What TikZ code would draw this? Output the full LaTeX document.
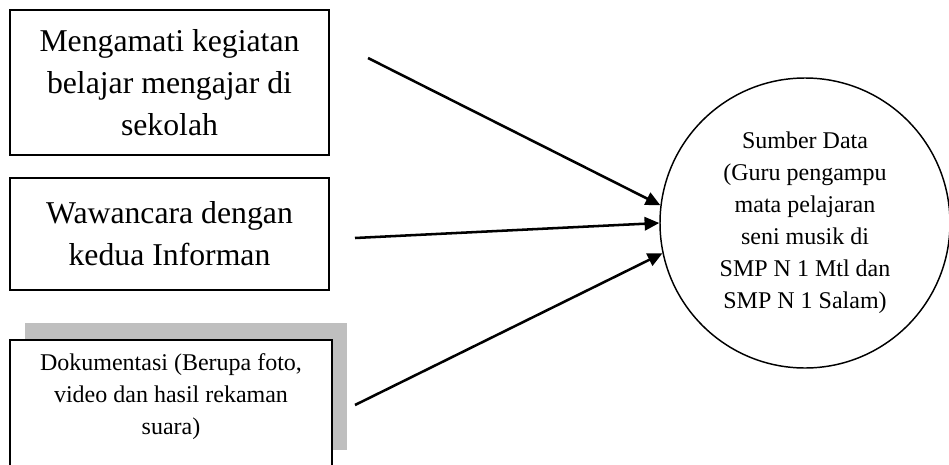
\documentclass[tikz,border=0pt]{standalone}
\usepackage{fontspec}
\setmainfont{Liberation Serif}
\usetikzlibrary{shapes,arrows.meta,positioning,shadows}

\tikzset{
	kotak/.style={draw, line width=1.1pt, fill=white, align=center, minimum width=239pt},
	besar/.style={font=\fontsize{23.8}{31.5}\selectfont},
	kecil/.style={font=\fontsize{18}{24}\selectfont},
	panah/.style={-{Triangle[length=11pt,width=10pt]}, line width=1.9pt}
}

\begin{document}
\begin{tikzpicture}[x=0.75pt,y=-0.75pt]
	\useasboundingbox (0,0) rectangle (949,464);
	\clip (0,0) rectangle (949,464);

	\node[kotak, besar, minimum height=108.75pt] (amati) at (169.5,82.5) {Mengamati kegiatan\\ belajar mengajar di\\ sekolah};
	\node[kotak, besar, minimum height=84pt] (wawan) at (169.5,234) {Wawancara dengan\\ kedua Informan};
	\node[kotak, kecil, minimum width=241.5pt, minimum height=95.25pt,
		general shadow={fill=black!25, shadow xshift=11.25pt, shadow yshift=12.75pt}] (dok) at (171,403.5)
		{Dokumentasi (Berupa foto,\\ video dan hasil rekaman\\ suara)\\[-10pt]\mbox{}};
	\node[shape=circle, draw, line width=1.1pt, kecil, align=center, minimum size=217.5pt] (sumber) at (805,223)
		{Sumber Data\\ (Guru pengampu\\ mata pelajaran\\ seni musik di\\ SMP N 1 Mtl dan\\ SMP N 1 Salam)};

	\coordinate (a1) at (368,58);
	\coordinate (a2) at (355,238);
	\coordinate (a3) at (355,405);

	\path [panah] (a1) edge (sumber.173);
	\path [panah] (a2) edge (sumber.180);
	\path [panah] (a3) edge (sumber.192);
\end{tikzpicture}
\end{document}
